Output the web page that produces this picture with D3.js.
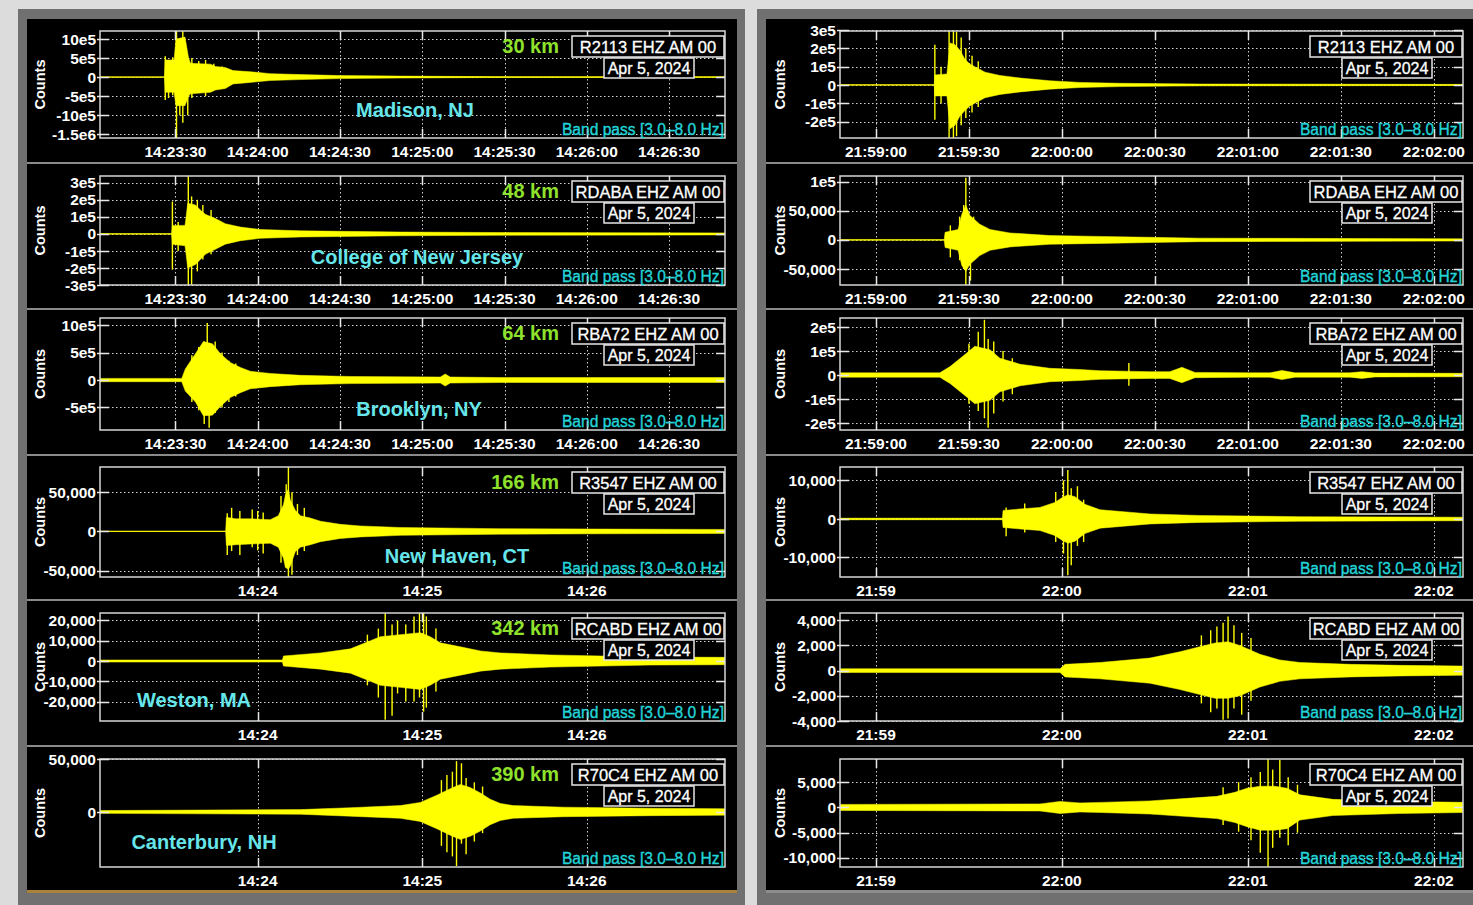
<!DOCTYPE html>
<html>
<head>
<meta charset="utf-8">
<script src="https://cdn.jsdelivr.net/npm/d3@7"></script>
<style>
  html, body { margin: 0; padding: 0; background: #dcdcdc; }
  svg { display: block; }
</style>
</head>
<body>
<svg id="chart" width="1473" height="905"></svg>
<script>
// ---- Station metadata ----
const stations = ["R2113", "RDABA", "RBA72", "R3547", "RCABD", "R70C4"];
const channelCode = "EHZ AM 00";
const distances = ["30 km", "48 km", "64 km", "166 km", "342 km", "390 km"];
const places = ["Madison, NJ", "College of New Jersey", "Brooklyn, NY", "New Haven, CT", "Weston, MA", "Canterbury, NH"];
const recordDate = "Apr 5, 2024";
const filterNote = "Band pass [3.0\u20138.0 Hz]";

// ---- Time windows (seconds relative to the window reference minute, UTC) ----
const mainRef = Date.UTC(2024, 3, 5, 14, 23, 0);   // main shock, 14:23 UTC
const afterRef = Date.UTC(2024, 3, 5, 21, 59, 0);  // aftershock, 21:59 UTC
const mainWindow = [2.5, 230.4];
const afterWindow = [-11.6, 189.4];

// ---- Amplitude ranges (counts) ----
const mainYDomains = [[-1.6e6, 1.21e6], [-3e5, 3.4e5], [-9.1e5, 1.13e6], [-5.8e4, 8.2e4], [-2.96e4, 2.37e4], [-5.2e4, 5e4]];
const afterYDomains = [[-2.9e5, 2.95e5], [-7.76e4, 1.1e5], [-2.29e5, 2.375e5], [-1.508e4, 1.35e4], [-4e3, 4.58e3], [-1.18e4, 9.6e3]];

// ---- Amplitude ticks ----
const mainYTicks = [
  [1e6, 5e5, 0, -5e5, -1e6, -1.5e6],
  [3e5, 2e5, 1e5, 0, -1e5, -2e5, -3e5],
  [1e6, 5e5, 0, -5e5],
  [5e4, 0, -5e4],
  [2e4, 1e4, 0, -1e4, -2e4],
  [5e4, 0]
];
const mainYLabels = [
  ["10e5", "5e5", "0", "-5e5", "-10e5", "-1.5e6"],
  ["3e5", "2e5", "1e5", "0", "-1e5", "-2e5", "-3e5"],
  ["10e5", "5e5", "0", "-5e5"],
  ["50,000", "0", "-50,000"],
  ["20,000", "10,000", "0", "-10,000", "-20,000"],
  ["50,000", "0"]
];
const afterYTicks = [
  [3e5, 2e5, 1e5, 0, -1e5, -2e5],
  [1e5, 5e4, 0, -5e4],
  [2e5, 1e5, 0, -1e5, -2e5],
  [1e4, 0, -1e4],
  [4000, 2000, 0, -2000, -4000],
  [5000, 0, -5000, -10000]
];
const afterYLabels = [
  ["3e5", "2e5", "1e5", "0", "-1e5", "-2e5"],
  ["1e5", "50,000", "0", "-50,000"],
  ["2e5", "1e5", "0", "-1e5", "-2e5"],
  ["10,000", "0", "-10,000"],
  ["4,000", "2,000", "0", "-2,000", "-4,000"],
  ["5,000", "0", "-5,000", "-10,000"]
];

// ---- Trace envelopes: [seconds, upper counts, lower counts] ----
const mainR2113Env = [[0,0,0],[26.0,0,0],[26.3,4.5e5,-4e5],[29.5,4.5e5,-4e5],[30.2,1e6,-7.5e5],[33.5,1.05e6,-7.5e5],[34.8,5e5,-5e5],[35.5,3.6e5,-4.4e5],[42.8,3.4e5,-4e5],[44.6,2.8e5,-3.4e5],[48.2,2.5e5,-3e5],[51,1.7e5,-1.8e5],[57.3,1.4e5,-1.4e5],[64.6,9e4,-9e4],[75.6,6.5e4,-6.5e4],[90,4e4,-4e4],[112,2.5e4,-2.5e4],[141,1.3e4,-1.3e4],[170,9e3,-9e3],[231,7e3,-7e3]];
const mainRDABAEnv = [[0,0,0],[28.6,0,0],[28.9,5e4,-6e4],[33.5,5e4,-7e4],[34.5,1.8e5,-2e5],[37.3,1.7e5,-1.8e5],[39.1,1.4e5,-1.5e5],[40.9,1.15e5,-1.2e5],[44.6,9e4,-9e4],[48.2,6e4,-6e4],[53.7,4e4,-4e4],[61,2.6e4,-2.6e4],[75.6,1.8e4,-1.8e4],[112,1.1e4,-1.1e4],[148,8e3,-8e3],[231,6e3,-6e3]];
const mainRBA72Env = [[0,3e4,-3e4],[32.3,3e4,-3e4],[33.6,2e5,-2e5],[37.3,4.8e5,-4e5],[40.2,7e5,-6.5e5],[43.5,6.6e5,-6.4e5],[46.4,4.8e5,-4.8e5],[50,3.2e5,-3.2e5],[53.7,2.3e5,-2.3e5],[57.3,1.6e5,-1.6e5],[64.6,1.2e5,-1.2e5],[75.6,8.5e4,-8.5e4],[93.8,6.5e4,-6.5e4],[126.6,5.5e4,-5.5e4],[128.4,1.1e5,-1.1e5],[130.2,5.5e4,-5.5e4],[148.5,4.5e4,-4.5e4],[231,4.5e4,-4.5e4]];
const mainR3547Env = [[0,0,0],[48.3,0,0],[48.6,1.8e4,-1.8e4],[51.9,1.6e4,-1.7e4],[57.3,1.6e4,-1.6e4],[64.6,1.5e4,-1.5e4],[67.5,2e4,-2e4],[69.4,3.4e4,-3.4e4],[70.1,4.6e4,-4.6e4],[71.2,5.4e4,-4.8e4],[71.9,4e4,-4.4e4],[73.7,2.7e4,-2.6e4],[75.6,2e4,-2e4],[79.2,1.7e4,-1.7e4],[82.9,1.3e4,-1.3e4],[90.1,9e3,-9e3],[97.4,7e3,-7e3],[112,5e3,-5e3],[148,3.5e3,-3.5e3],[185,3e3,-3e3],[231,2.5e3,-2.5e3]];
const mainRCABDEnv = [[0,500,-500],[69,500,-500],[69.4,2500,-2500],[82.9,4000,-4000],[93.8,6000,-6000],[101.1,1e4,-1e4],[104.7,1.2e4,-1.2e4],[112,1.3e4,-1.3e4],[119.3,1.4e4,-1.4e4],[122.9,1.2e4,-1.2e4],[126.6,9000,-9000],[133.9,7000,-7000],[141.2,5000,-5000],[148.5,4000,-4000],[166.7,3000,-3000],[185,2500,-2500],[203,2000,-2000],[231,1800,-1800]];
const mainR70C4Env = [[0,1300,-1300],[75.6,2200,-2200],[93.8,4000,-4000],[112,6000,-6000],[119.3,9000,-9000],[125.5,1.6e4,-1.6e4],[130.2,2.2e4,-2.2e4],[133.9,2.6e4,-2.6e4],[137.5,2.3e4,-2.3e4],[141.2,1.8e4,-1.8e4],[144.8,1.2e4,-1.2e4],[148.5,8000,-8000],[153.2,6000,-6000],[171.4,4500,-4500],[203,3500,-3500],[231,3000,-3000]];

const afterR2113Env = [[-12,0,0],[18.8,0,0],[19.0,5.5e4,-6e4],[22.9,6e4,-6e4],[23.9,2.3e5,-2.4e5],[25.5,2.2e5,-2.2e5],[27.1,1.9e5,-1.7e5],[28.7,1.4e5,-1.4e5],[30.3,1.15e5,-1.15e5],[31.9,1e5,-1e5],[35.2,7e4,-7e4],[40,5.2e4,-5.2e4],[46.5,3.8e4,-3.8e4],[56.1,2.3e4,-2.3e4],[65.8,1.4e4,-1.4e4],[78.7,9e3,-9e3],[104.5,5000,-5000],[190,3000,-3000]];
const afterRDABAEnv = [[-12,0,0],[22.0,0,0],[22.3,1.3e4,-1.3e4],[26.5,1.8e4,-1.8e4],[27.7,4.4e4,-4.4e4],[29,6e4,-5.4e4],[30.3,4.2e4,-4.2e4],[33.5,2.7e4,-2.7e4],[36.8,1.8e4,-1.8e4],[43.2,1.2e4,-1.2e4],[56.1,7500,-7500],[72.3,6000,-6000],[88.4,4500,-4500],[104.5,3000,-3000],[190,1800,-1800]];
const afterRBA72Env = [[-12,9e3,-9e3],[20.6,9e3,-9e3],[23.9,3.5e4,-3.5e4],[28.7,8.5e4,-8.5e4],[31.9,1.2e5,-1.2e5],[36.8,1.05e5,-1.05e5],[40,7e4,-7e4],[46.5,4.5e4,-4.5e4],[56.1,2.8e4,-2.8e4],[65.8,2.3e4,-2.3e4],[72.3,1.8e4,-1.8e4],[88.4,1.4e4,-1.4e4],[94.8,1.4e4,-1.4e4],[98.7,3.2e4,-3.2e4],[102.9,1.1e4,-1.1e4],[120.7,9e3,-9e3],[127.1,9e3,-9e3],[131,1.9e4,-1.9e4],[135.2,9e3,-9e3],[152.9,9e3,-9e3],[156.8,1.4e4,-1.4e4],[161,8000,-8000],[190,7000,-7000]];
const afterR3547Env = [[-12,200,-200],[40.8,200,-200],[41,2200,-2200],[46.5,2600,-2600],[52.9,3000,-3000],[57.7,4300,-4300],[60,5500,-5500],[61.9,6300,-6300],[64.2,5800,-5800],[67.4,3800,-3800],[72.3,2400,-2400],[88.4,1300,-1300],[104.5,900,-900],[136.8,600,-600],[190,450,-450]];
const afterRCABDEnv = [[-12,150,-150],[59.4,150,-150],[61,500,-500],[72.3,650,-650],[88.4,1000,-1000],[98.1,1500,-1500],[104.5,1900,-1900],[109.4,2200,-2200],[113.6,2300,-2200],[117.4,2000,-2000],[123.9,1300,-1300],[130.3,850,-850],[136.8,650,-650],[152.9,500,-500],[169,420,-420],[190,360,-360]];
const afterR70C4Env = [[-12,600,-600],[52.9,700,-700],[59.4,1200,-1200],[65.8,900,-900],[72.3,1000,-1000],[88.4,1300,-1300],[98.1,1700,-1700],[110,2200,-2200],[115.8,3000,-3000],[119.7,3800,-3800],[123.9,4200,-4500],[128.7,4200,-4500],[132.6,3800,-4200],[136.8,2500,-2500],[147.4,1600,-1600],[169,1200,-1200],[190,1000,-1000]];

// ---- Peak swings: [seconds, max counts, min counts] ----
const mainR2113Peaks = [[26.3,5.5e5,-6e5],[27.5,4e5,-5.5e5],[29,5.2e5,-4.8e5],[30.4,1.21e6,-1.6e6],[31.6,9e5,-1e6],[32.7,1.21e6,-1.2e6],[34.5,1e5,-1e6],[36,5e5,-5.5e5],[38.5,4.2e5,-4e5],[41,4.5e5,-5e5],[44,3.5e5,-3.2e5],[47,2.8e5,-3e5]];
const mainRDABAPeaks = [[28.9,1.9e5,-2.1e5],[31,7e4,-1e5],[34.7,3.4e5,-3e5],[35.9,2.2e5,-3e5],[38,2e5,-2.2e5],[40,1.7e5,-1.5e5],[43,1.4e5,-1.2e5]];
const mainRBA72Peaks = [[36,4.5e5,-4e5],[38.5,6e5,-5.5e5],[40.5,7e5,-8e5],[41.6,1.04e6,-5e5],[42.3,6e5,-8.7e5],[44.5,7e5,-6e5],[47,5e5,-5e5],[49.5,3.5e5,-4e5],[52,3e5,-3e5]];
const mainR3547Peaks = [[48.9,2.3e4,-3e4],[50.5,3e4,-2.5e4],[53.5,2.6e4,-3e4],[58,2.8e4,-2e4],[60,2.6e4,-2.4e4],[62,2.4e4,-2.8e4],[68.5,4.5e4,-4e4],[70.4,6e4,-4.5e4],[71.2,8.2e4,-5.8e4],[72.5,5e4,-5.5e4],[74.5,3.5e4,-3e4],[77,3e4,-2.5e4]];
const mainRCABDPeaks = [[100,1.3e4,-1.2e4],[104,1.6e4,-1.8e4],[106.5,2.4e4,-2.9e4],[109,1.8e4,-2.7e4],[111,2e4,-1.6e4],[114,1.8e4,-2e4],[117,2.2e4,-2e4],[119,2.37e4,-1.8e4],[120.5,2.4e4,-2.5e4],[121.5,2.2e4,-2.3e4],[125,1.6e4,-1.5e4]];
const mainR70C4Peaks = [[127,3e4,-3.2e4],[129,3.5e4,-3.8e4],[131,3.8e4,-4.2e4],[132.5,4.8e4,-5.1e4],[134.3,4.6e4,-3e4],[136,3.2e4,-4e4],[139,2.8e4,-2.8e4],[142,2.4e4,-2e4]];
const afterR2113Peaks = [[19.0,2.2e5,-1.9e5],[21,1e5,-1e5],[23.6,2.95e5,-2.9e5],[25.0,2.95e5,-2.9e5],[26,2.9e5,-2.8e5],[27.5,2.6e5,-2.2e5],[29,2e5,-1.8e5],[31,1.6e5,-1.5e5],[33,1.3e5,-1.2e5]];
const afterRDABAPeaks = [[24,2.5e4,-3e4],[27,4e4,-3.5e4],[28.3,6e4,-5e4],[29,1.07e5,-7.8e4],[30.5,4e4,-7e4],[31.5,4e4,-3.5e4]];
const afterRBA72Peaks = [[30,1.3e5,-1.2e5],[33,1.8e5,-1.5e5],[35.0,2.3e5,-1.8e5],[36.2,1.5e5,-2.2e5],[38,1.4e5,-1.6e5],[41,1e5,-1.1e5],[44,7e4,-8e4],[81.6,5e4,-4.5e4]];
const afterR3547Peaks = [[42,3000,-4500],[48,4000,-3500],[58,7000,-6000],[60.5,1e4,-9000],[61.9,1.27e4,-1.46e4],[63,8000,-1.2e4],[65,8500,-7000],[67,5000,-6000]];
const afterRCABDPeaks = [[105,2800,-2600],[108,3200,-3300],[110,3500,-3000],[112,3800,-3900],[113.6,4300,-3800],[115.5,3600,-3000],[118,3000,-3500],[121,2600,-2400]];
const afterR70C4Peaks = [[112,4000,-3500],[117,5000,-4800],[121,6000,-6500],[124,7000,-9000],[126.5,9600,-1.18e4],[128,7500,-8000],[130.3,9400,-6000],[133,6000,-7500],[136,4500,-5000]];

const mainEnvelopes = [mainR2113Env, mainRDABAEnv, mainRBA72Env, mainR3547Env, mainRCABDEnv, mainR70C4Env];
const mainPeaks = [mainR2113Peaks, mainRDABAPeaks, mainRBA72Peaks, mainR3547Peaks, mainRCABDPeaks, mainR70C4Peaks];
const afterEnvelopes = [afterR2113Env, afterRDABAEnv, afterRBA72Env, afterR3547Env, afterRCABDEnv, afterR70C4Env];
const afterPeaks = [afterR2113Peaks, afterRDABAPeaks, afterRBA72Peaks, afterR3547Peaks, afterRCABDPeaks, afterR70C4Peaks];

// ---- Layout ----
const rowTop = [31, 176, 318, 467, 613, 759];
const rowBot = [138, 285, 430, 577, 721, 867];
const dividers = [163, 309, 455, 600, 746];
const placeAnchors = [[415, 117], [417, 264], [419, 416], [457, 563], [194, 707], [204, 849]];

const COL = {
  trace: "#ffff00",
  zero: "#d8d000",
  frame: "#d6d6d6",
  grid: "#cfcfcf",
  text: "#ffffff",
  dist: "#8fe22c",
  place: "#66e6ea",
  filter: "#22d4d8"
};

const svg = d3.select("#chart");
const defs = svg.append("defs");

// Page and the two framed display blocks
svg.append("rect").attr("width", 1473).attr("height", 905).attr("fill", "#dcdcdc");
const blocks = [
  { outer: [18, 9, 727, 896], inner: [27, 19, 710, 872], x0: 100, x1: 725, ref: mainRef, win: mainWindow,
    yDom: mainYDomains, yTicks: mainYTicks, yLabels: mainYLabels, env: mainEnvelopes, peaks: mainPeaks, annotate: true, base: "#a8823a" },
  { outer: [757, 9, 716, 896], inner: [766, 19, 707, 872], x0: 840, x1: 1463, ref: afterRef, win: afterWindow,
    yDom: afterYDomains, yTicks: afterYTicks, yLabels: afterYLabels, env: afterEnvelopes, peaks: afterPeaks, annotate: false, base: "#8c8c8c" }
];

blocks.forEach((b, bi) => {
  svg.append("rect").attr("x", b.outer[0]).attr("y", b.outer[1]).attr("width", b.outer[2]).attr("height", b.outer[3]).attr("fill", "#707070");
  svg.append("rect").attr("x", b.inner[0]).attr("y", b.inner[1]).attr("width", b.inner[2]).attr("height", b.inner[3]).attr("fill", "#000");
  svg.append("rect").attr("x", b.inner[0]).attr("y", b.inner[1] + b.inner[3] - 1).attr("width", b.inner[2]).attr("height", 3).attr("fill", b.base);
  dividers.forEach(yv => {
    svg.append("rect").attr("x", b.inner[0]).attr("y", yv - 1).attr("width", b.inner[2]).attr("height", 2).attr("fill", "#8a8a8a");
  });

  for (let r = 0; r < 6; r++) drawPanel(b, bi, r);
});

function drawPanel(b, bi, r) {
  const top = rowTop[r], bot = rowBot[r], x0 = b.x0, x1 = b.x1;
  const g = svg.append("g");
  const toDate = s => new Date(b.ref + s * 1000);
  const x = d3.scaleUtc().domain([toDate(b.win[0]), toDate(b.win[1])]).range([x0, x1]);
  const y = d3.scaleLinear().domain(b.yDom[r]).range([bot, top]);

  const fine = r < 3;
  const timeTicks = x.ticks(fine ? d3.utcSecond.every(30) : d3.utcMinute.every(1));
  const fmt = d3.utcFormat(fine ? "%H:%M:%S" : "%H:%M");

  const clipId = `clip-${bi}-${r}`;
  defs.append("clipPath").attr("id", clipId)
    .append("rect").attr("x", x0).attr("y", top).attr("width", x1 - x0).attr("height", bot - top);

  // dotted grid
  const grid = g.append("g").attr("stroke", COL.grid).attr("stroke-width", 1).attr("stroke-dasharray", "1.5 2.5");
  grid.selectAll("line.h").data(b.yTicks[r]).join("line")
    .attr("x1", x0).attr("x2", x1).attr("y1", d => Math.round(y(d)) + 0.5).attr("y2", d => Math.round(y(d)) + 0.5);
  grid.selectAll("line.v").data(timeTicks).join("line")
    .attr("x1", d => Math.round(x(d)) + 0.5).attr("x2", d => Math.round(x(d)) + 0.5).attr("y1", top).attr("y2", bot);

  // trace
  const plot = g.append("g").attr("clip-path", `url(#${clipId})`);
  plot.append("line").attr("x1", x0).attr("x2", x1).attr("y1", y(0)).attr("y2", y(0))
    .attr("stroke", COL.zero).attr("stroke-width", 1.3);
  const area = d3.area()
    .x(d => x(toDate(d[0])))
    .y0(d => y(d[2]))
    .y1(d => y(d[1]));
  plot.append("path").datum(b.env[r]).attr("d", area)
    .attr("fill", COL.trace).attr("stroke", COL.trace).attr("stroke-width", 0.5).attr("stroke-linejoin", "round");
  plot.selectAll("line.pk").data(b.peaks[r]).join("line")
    .attr("x1", d => x(toDate(d[0]))).attr("x2", d => x(toDate(d[0])))
    .attr("y1", d => y(d[1])).attr("y2", d => y(d[2]))
    .attr("stroke", COL.trace).attr("stroke-width", 1.4);

  // frame + ticks
  g.append("rect").attr("x", x0).attr("y", top).attr("width", x1 - x0).attr("height", bot - top)
    .attr("fill", "none").attr("stroke", COL.frame).attr("stroke-width", 1.5);
  const tk = g.append("g").attr("stroke", "#e8e8e8").attr("stroke-width", 1.5);
  b.yTicks[r].forEach(v => {
    const yy = Math.round(y(v)) + 0.5;
    tk.append("line").attr("x1", x0 - 3).attr("x2", x0 + 9).attr("y1", yy).attr("y2", yy);
    tk.append("line").attr("x1", x1 - 9).attr("x2", x1).attr("y1", yy).attr("y2", yy);
  });
  timeTicks.forEach(d => {
    const xx = Math.round(x(d)) + 0.5;
    tk.append("line").attr("x1", xx).attr("x2", xx).attr("y1", top).attr("y2", top + 9);
    tk.append("line").attr("x1", xx).attr("x2", xx).attr("y1", bot - 9).attr("y2", bot);
  });

  // tick labels
  const tickFont = "'Liberation Sans', Arial, sans-serif";
  g.selectAll("text.yl").data(b.yTicks[r]).join("text")
    .attr("x", x0 - 4).attr("y", d => y(d)).attr("dy", "0.36em")
    .attr("text-anchor", "end").attr("fill", COL.text)
    .attr("font-family", tickFont).attr("font-weight", "bold").attr("font-size", 15.5)
    .text((d, i) => b.yLabels[r][i]);
  g.selectAll("text.xl").data(timeTicks).join("text")
    .attr("x", d => x(d)).attr("y", bot + 19)
    .attr("text-anchor", "middle").attr("fill", COL.text)
    .attr("font-family", tickFont).attr("font-weight", "bold").attr("font-size", 15.5)
    .text(fmt);

  g.append("text")
    .attr("transform", `translate(${x0 - 55},${(top + bot) / 2}) rotate(-90)`)
    .attr("text-anchor", "middle").attr("fill", COL.text)
    .attr("font-family", tickFont).attr("font-weight", "bold").attr("font-size", 14.5)
    .text("Counts");

  // station boxes
  const boxFont = "'Liberation Sans', Arial, sans-serif";
  const sb = g.append("g");
  sb.append("rect").attr("x", x1 - 153).attr("y", top + 5).attr("width", 152).attr("height", 21)
    .attr("fill", "#000").attr("stroke", "#e6e6e6").attr("stroke-width", 1.5);
  sb.append("text").attr("x", x1 - 77).attr("y", top + 21.5).attr("text-anchor", "middle")
    .attr("fill", COL.text).attr("font-family", boxFont).attr("font-size", 16.5)
    .attr("stroke", COL.text).attr("stroke-width", 0.3)
    .text(`${stations[r]} ${channelCode}`);
  sb.append("rect").attr("x", x1 - 121).attr("y", top + 27).attr("width", 90).attr("height", 20)
    .attr("fill", "#000").attr("stroke", "#e6e6e6").attr("stroke-width", 1.5);
  sb.append("text").attr("x", x1 - 76).attr("y", top + 43).attr("text-anchor", "middle")
    .attr("fill", COL.text).attr("font-family", boxFont).attr("font-size", 16)
    .attr("stroke", COL.text).attr("stroke-width", 0.3)
    .text(recordDate);

  g.append("text").attr("x", x1 - 1).attr("y", bot - 3).attr("text-anchor", "end")
    .attr("fill", COL.filter).attr("font-family", boxFont).attr("font-size", 15.6)
    .attr("stroke", COL.filter).attr("stroke-width", 0.35)
    .text(filterNote);

  if (b.annotate) {
    g.append("text").attr("x", x1 - 166).attr("y", top + 22).attr("text-anchor", "end")
      .attr("fill", COL.dist).attr("font-family", boxFont).attr("font-weight", "bold").attr("font-size", 20)
      .text(distances[r]);
    g.append("text").attr("x", placeAnchors[r][0]).attr("y", placeAnchors[r][1]).attr("text-anchor", "middle")
      .attr("fill", COL.place).attr("font-family", boxFont).attr("font-weight", "bold").attr("font-size", 20)
      .text(places[r]);
  }
}
</script>
</body>
</html>
